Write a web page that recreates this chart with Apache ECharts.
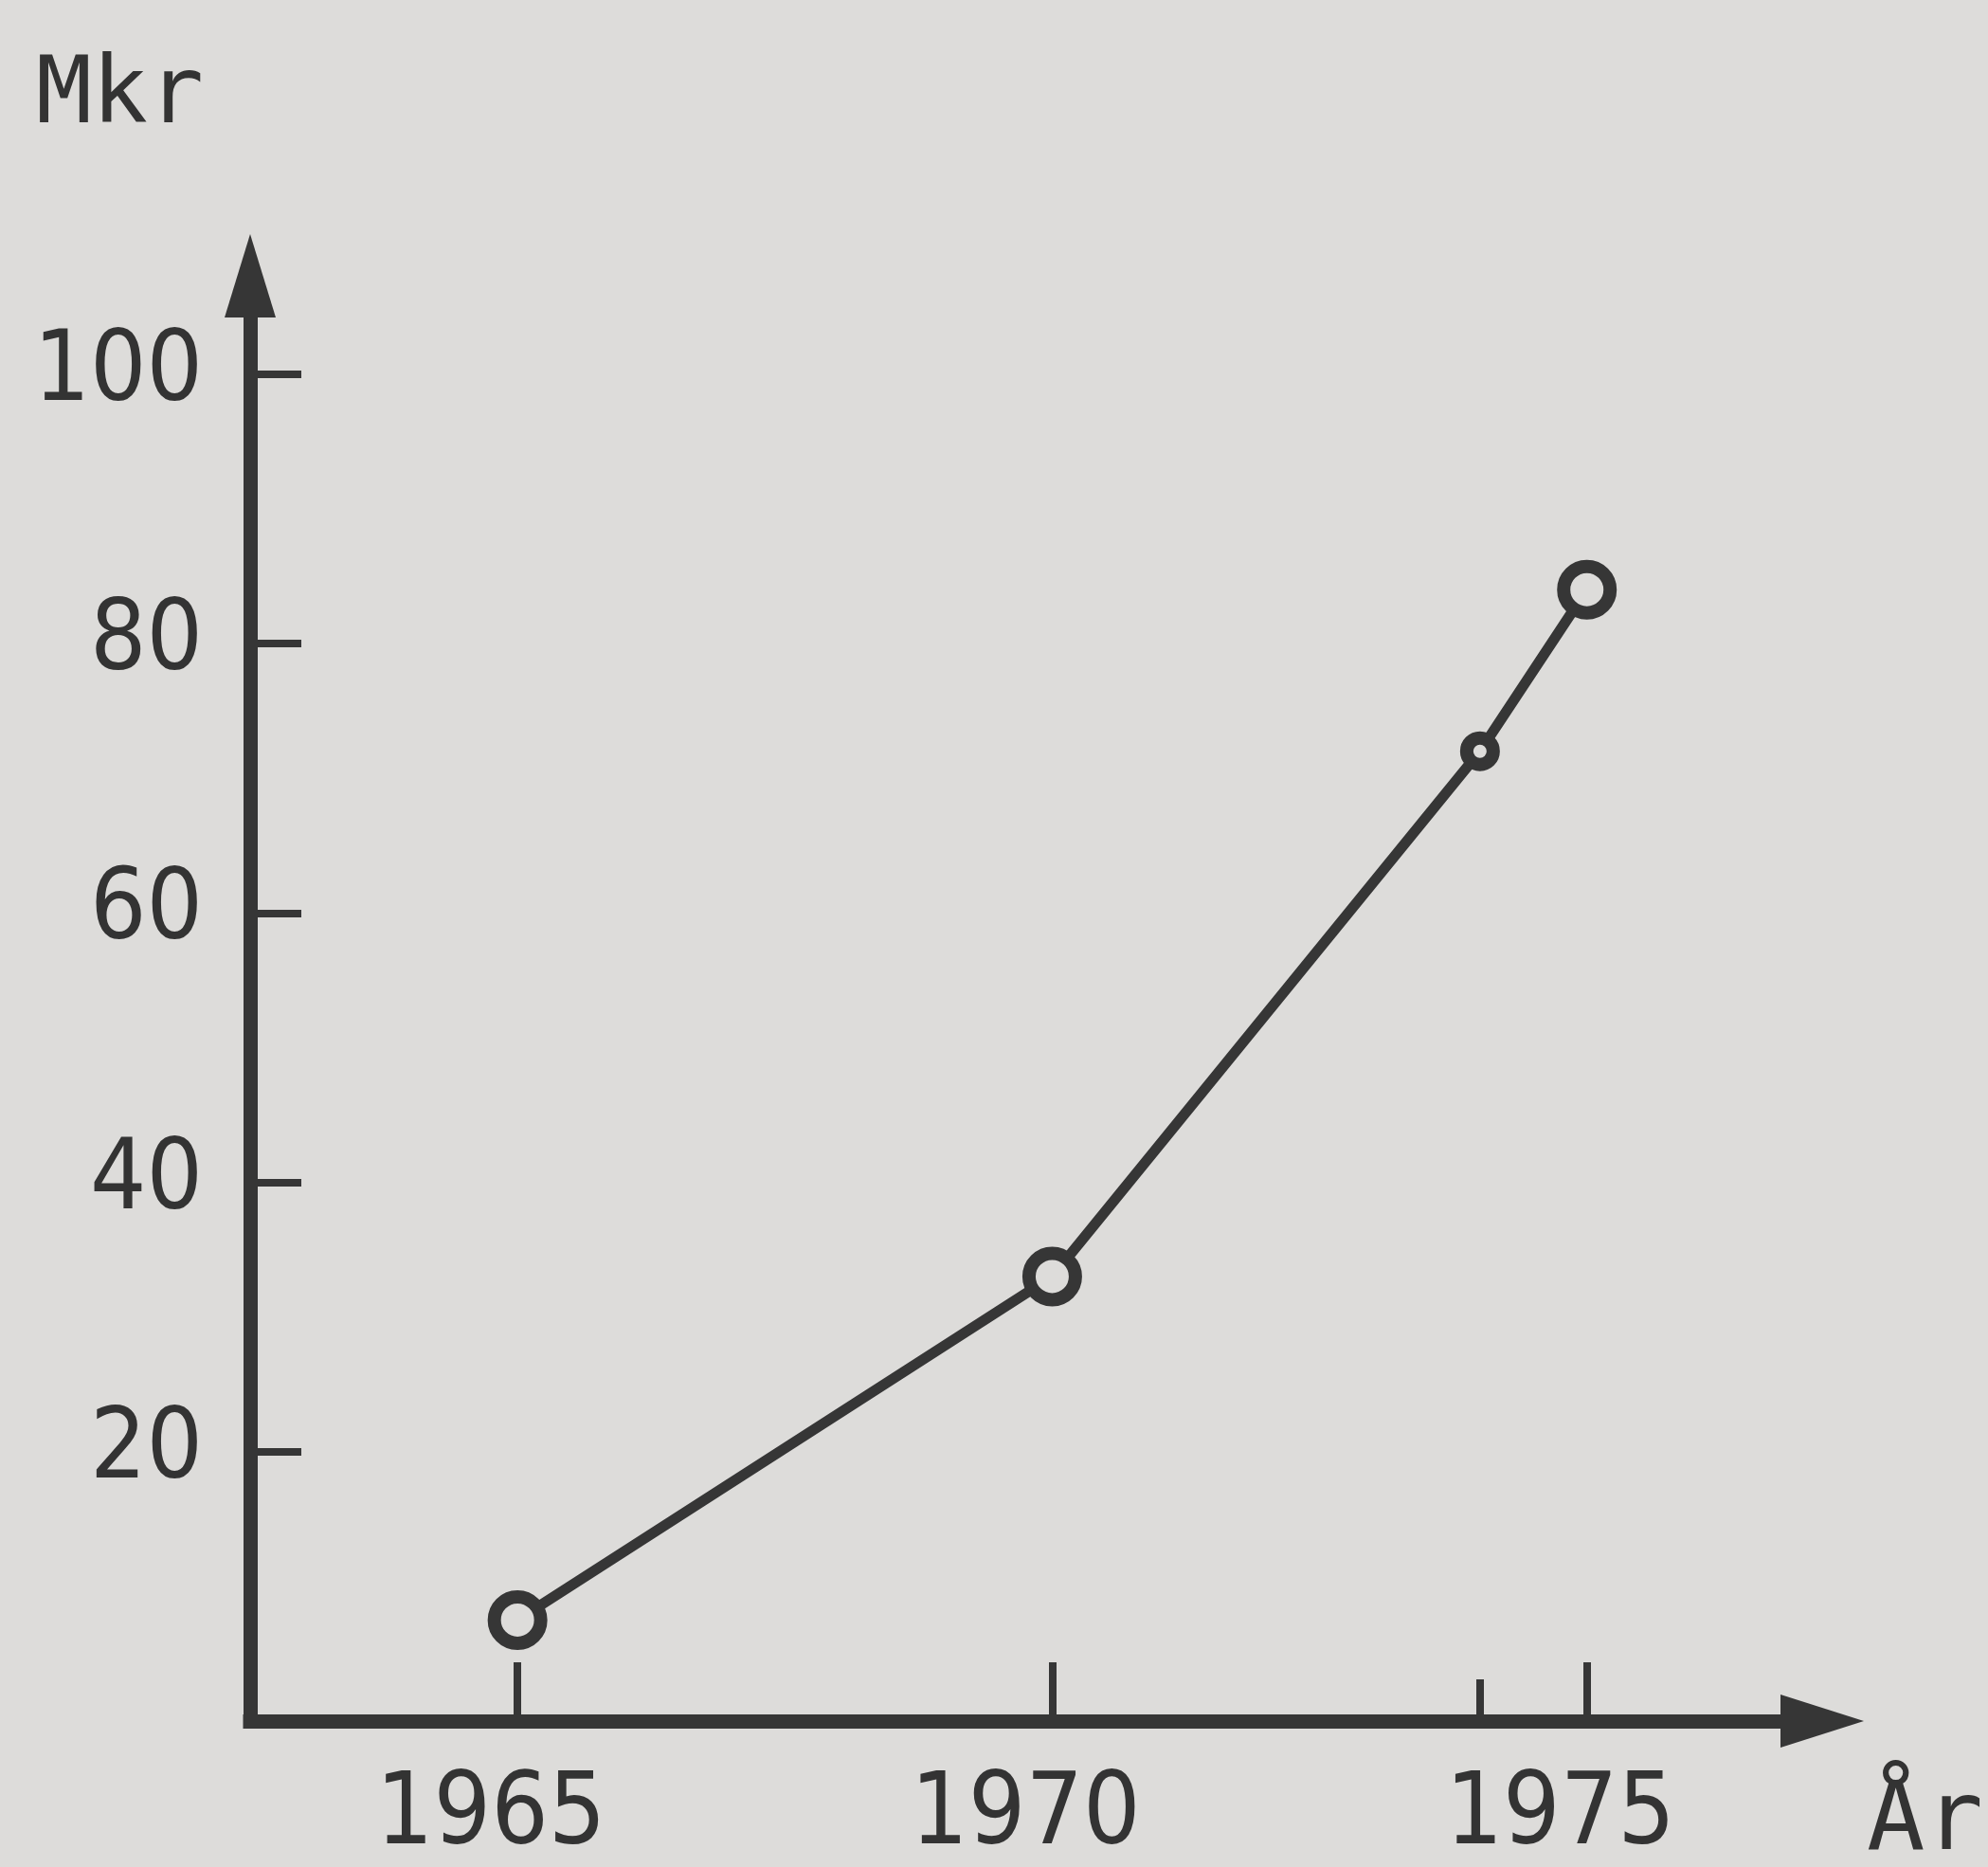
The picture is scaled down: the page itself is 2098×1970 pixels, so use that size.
<!DOCTYPE html>
<html>
<head>
<meta charset="utf-8">
<title>Mkr</title>
<script src="https://cdn.jsdelivr.net/npm/echarts@6/dist/echarts.min.js"></script>
<style>
    html, body { margin: 0; padding: 0; background: #dddcda; }
    #main { width: 2098px; height: 1970px; }
</style>
</head>
<body>
<div id="main"></div>
<script>
// data
var years = [1965, 1970, 1974, 1975];
var values = [7.5, 33, 72, 84];
var yearTicks = [1965, 1970, 1975];
var minorYearTicks = [1974];
var valueTicks = [20, 40, 60, 80, 100];

var ink = '#363636';

var points = [];
for (var i = 0; i < years.length; i++) {
    points.push([years[i], values[i]]);
}

var myChart = echarts.init(document.getElementById('main'));
myChart.setOption({
    backgroundColor: '#dddcda',
    animation: false,
    grid: {
        left: 264,
        right: 175,
        top: 291,
        bottom: 150
    },
    xAxis: [
        {
            type: 'value',
            min: 1962.5,
            max: 1977.2,
            splitLine: { show: false },
            axisLine: {
                show: true,
                symbol: ['none', 'triangle'],
                symbolSize: [56, 88],
                lineStyle: { color: ink, width: 15, cap: 'square' }
            },
            axisTick: {
                show: true,
                inside: true,
                length: 62,
                customValues: yearTicks,
                lineStyle: { color: ink, width: 8 }
            },
            axisLabel: {
                show: true,
                customValues: yearTicks,
                margin: 48,
                color: '#333',
                fontFamily: 'DejaVu Sans Condensed',
                fontSize: 106,
                padding: [0, 56, 0, 0],
                formatter: function (v) { return String(v); }
            }
        },
        {
            // kortare streck for 1974
            type: 'value',
            min: 1962.5,
            max: 1977.2,
            position: 'bottom',
            splitLine: { show: false },
            axisLine: { show: false },
            axisTick: {
                show: true,
                inside: true,
                length: 44,
                customValues: minorYearTicks,
                lineStyle: { color: ink, width: 8 }
            },
            axisLabel: { show: false }
        }
    ],
    yAxis: {
        type: 'value',
        min: 0,
        max: 107.3,
        splitLine: { show: false },
        axisLine: {
            show: true,
            symbol: ['none', 'triangle'],
            symbolSize: [54, 88],
            lineStyle: { color: ink, width: 15, cap: 'square' }
        },
        axisTick: {
            show: true,
            inside: true,
            length: 54,
            customValues: valueTicks,
            lineStyle: { color: ink, width: 8 }
        },
        axisLabel: {
            show: true,
            customValues: valueTicks,
            margin: 50,
            color: '#333',
            fontFamily: 'DejaVu Sans Condensed',
            fontSize: 104
        }
    },
    graphic: [
        {
            type: 'text',
            style: {
                x: 38, y: 104,
                text: 'Mkr',
                fill: '#333',
                font: '98px "DejaVu Sans Mono"',
                textAlign: 'left',
                textVerticalAlign: 'middle'
            }
        },
        {
            type: 'text',
            style: {
                x: 1970, y: 1924,
                text: 'År',
                fill: '#333',
                font: '102px "DejaVu Sans Mono"',
                textAlign: 'left',
                textVerticalAlign: 'middle'
            }
        }
    ],
    series: [{
        type: 'line',
        data: points,
        symbol: 'circle',
        symbolSize: function (val) {
            return val[0] === 1974 ? 28 : 49;
        },
        lineStyle: { color: ink, width: 11 },
        itemStyle: { color: '#dddcda', borderColor: ink, borderWidth: 14 },
        z: 5
    }]
});
</script>
</body>
</html>
